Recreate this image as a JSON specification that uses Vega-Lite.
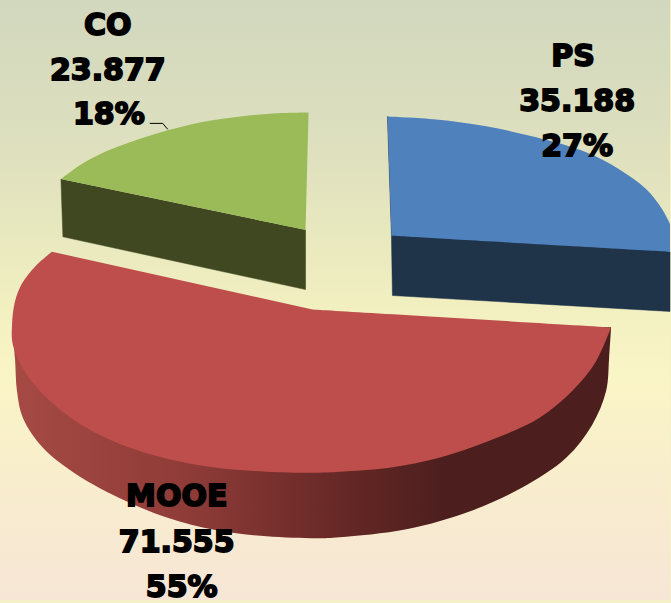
{
"$schema":"https://vega.github.io/schema/vega-lite/v6.json",
"autosize":{"type":"fit","contains":"padding"},
"width":671,"height":603,"padding":0,
"background":"#F5F0C8",
"view":{"stroke":null,"fill":{"gradient":"linear","x1":0,"y1":0,"x2":0,"y2":1,"stops":[{"offset":0,"color":"#D2D8BE"},{"offset":0.25,"color":"#DEE0BE"},{"offset":0.5,"color":"#F1EFC0"},{"offset":0.63,"color":"#FAF5C6"},{"offset":0.85,"color":"#F8EBCF"},{"offset":1,"color":"#F7E6D6"}]}},
"datasets":{
"outline":[
{"s":"CO side","i":1,"x":61,"y":180},{"s":"CO side","i":2,"x":63,"y":238},{"s":"CO side","i":3,"x":306,"y":291},{"s":"CO side","i":4,"x":306,"y":231},
{"s":"CO top","i":1,"x":309,"y":113},{"s":"CO top","i":2,"x":309,"y":113},{"s":"CO top","i":3,"x":273,"y":114},{"s":"CO top","i":4,"x":233,"y":118},{"s":"CO top","i":5,"x":200,"y":123},{"s":"CO top","i":6,"x":168,"y":131},{"s":"CO top","i":7,"x":133,"y":142},{"s":"CO top","i":8,"x":100,"y":155},{"s":"CO top","i":9,"x":80,"y":166},{"s":"CO top","i":10,"x":61,"y":180},{"s":"CO top","i":11,"x":61,"y":180},{"s":"CO top","i":12,"x":306,"y":231},{"s":"CO top","i":13,"x":306,"y":231},
{"s":"PS side","i":1,"x":388,"y":117},{"s":"PS side","i":2,"x":392,"y":237},{"s":"PS side","i":3,"x":393,"y":297},{"s":"PS side","i":4,"x":671,"y":313},{"s":"PS side","i":5,"x":671,"y":253},
{"s":"PS top","i":1,"x":388,"y":117},{"s":"PS top","i":2,"x":388,"y":117},{"s":"PS top","i":3,"x":437,"y":120},{"s":"PS top","i":4,"x":487,"y":127},{"s":"PS top","i":5,"x":537,"y":138},{"s":"PS top","i":6,"x":587,"y":153},{"s":"PS top","i":7,"x":620,"y":170},{"s":"PS top","i":8,"x":647,"y":190},{"s":"PS top","i":9,"x":663,"y":210},{"s":"PS top","i":10,"x":671,"y":225},{"s":"PS top","i":11,"x":671,"y":225},{"s":"PS top","i":12,"x":671,"y":253},{"s":"PS top","i":13,"x":671,"y":253},{"s":"PS top","i":14,"x":392,"y":237},{"s":"PS top","i":15,"x":392,"y":237},
{"s":"MOOE side","i":1,"x":12,"y":327},{"s":"MOOE side","i":2,"x":12,"y":327},{"s":"MOOE side","i":3,"x":15,"y":360},{"s":"MOOE side","i":4,"x":17,"y":393},{"s":"MOOE side","i":5,"x":23,"y":420},{"s":"MOOE side","i":6,"x":43,"y":450},{"s":"MOOE side","i":7,"x":77,"y":477},{"s":"MOOE side","i":8,"x":125,"y":503},{"s":"MOOE side","i":9,"x":167,"y":520},{"s":"MOOE side","i":10,"x":217,"y":533},{"s":"MOOE side","i":11,"x":267,"y":539},{"s":"MOOE side","i":12,"x":317,"y":541},{"s":"MOOE side","i":13,"x":340,"y":540},{"s":"MOOE side","i":14,"x":407,"y":532},{"s":"MOOE side","i":15,"x":473,"y":513},{"s":"MOOE side","i":16,"x":523,"y":490},{"s":"MOOE side","i":17,"x":567,"y":460},{"s":"MOOE side","i":18,"x":593,"y":427},{"s":"MOOE side","i":19,"x":607,"y":393},{"s":"MOOE side","i":20,"x":610,"y":360},{"s":"MOOE side","i":21,"x":612,"y":329},{"s":"MOOE side","i":22,"x":612,"y":329},
{"s":"MOOE top","i":1,"x":52,"y":253},{"s":"MOOE top","i":2,"x":52,"y":253},{"s":"MOOE top","i":3,"x":35,"y":268},{"s":"MOOE top","i":4,"x":22,"y":285},{"s":"MOOE top","i":5,"x":15,"y":303},{"s":"MOOE top","i":6,"x":12,"y":327},{"s":"MOOE top","i":7,"x":13,"y":347},{"s":"MOOE top","i":8,"x":27,"y":377},{"s":"MOOE top","i":9,"x":50,"y":403},{"s":"MOOE top","i":10,"x":83,"y":428},{"s":"MOOE top","i":11,"x":117,"y":445},{"s":"MOOE top","i":12,"x":167,"y":461},{"s":"MOOE top","i":13,"x":217,"y":470},{"s":"MOOE top","i":14,"x":267,"y":474},{"s":"MOOE top","i":15,"x":317,"y":475},{"s":"MOOE top","i":16,"x":340,"y":474},{"s":"MOOE top","i":17,"x":390,"y":470},{"s":"MOOE top","i":18,"x":440,"y":460},{"s":"MOOE top","i":19,"x":490,"y":443},{"s":"MOOE top","i":20,"x":540,"y":420},{"s":"MOOE top","i":21,"x":573,"y":393},{"s":"MOOE top","i":22,"x":597,"y":363},{"s":"MOOE top","i":23,"x":612,"y":329},{"s":"MOOE top","i":24,"x":612,"y":329},{"s":"MOOE top","i":25,"x":313,"y":311},{"s":"MOOE top","i":26,"x":313,"y":311},
{"s":"leader","i":1,"x":150,"y":124},{"s":"leader","i":2,"x":163,"y":124},{"s":"leader","i":3,"x":168,"y":130}
],
"labels":[
{"t":"CO","x":108,"y":35},{"t":"23.877","x":108,"y":80},{"t":"18%","x":109,"y":125},
{"t":"PS","x":574,"y":66},{"t":"35.188","x":578,"y":112},{"t":"27%","x":578,"y":157},
{"t":"MOOE","x":177,"y":509},{"t":"71.555","x":177,"y":555},{"t":"55%","x":182,"y":600}
]},
"encoding":{
"x":{"field":"x","type":"quantitative","axis":null,"scale":{"domain":[0,671],"nice":false,"zero":false}},
"y":{"field":"y","type":"quantitative","axis":null,"scale":{"domain":[603,0],"nice":false,"zero":false}}
},
"layer":[
{"data":{"name":"outline"},"transform":[{"filter":"datum.s==='CO side'"}],"mark":{"type":"line","fill":"#3F4820","stroke":"#3F4820","strokeWidth":0.5},"encoding":{"order":{"field":"i","type":"quantitative"}}},
{"data":{"name":"outline"},"transform":[{"filter":"datum.s==='CO top'"}],"mark":{"type":"line","interpolate":"catmull-rom","fill":"#9BBB59","strokeWidth":0},"encoding":{"order":{"field":"i","type":"quantitative"}}},
{"data":{"name":"outline"},"transform":[{"filter":"datum.s==='PS side'"}],"mark":{"type":"line","fill":"#1F3349","stroke":"#1F3349","strokeWidth":0.5},"encoding":{"order":{"field":"i","type":"quantitative"}}},
{"data":{"name":"outline"},"transform":[{"filter":"datum.s==='PS top'"}],"mark":{"type":"line","interpolate":"catmull-rom","fill":"#4F81BD","strokeWidth":0},"encoding":{"order":{"field":"i","type":"quantitative"}}},
{"data":{"name":"outline"},"transform":[{"filter":"datum.s==='MOOE side'"}],"mark":{"type":"line","interpolate":"catmull-rom","strokeWidth":0,"fill":{"gradient":"linear","x1":0,"y1":0,"x2":1,"y2":0,"stops":[{"offset":0,"color":"#A64A44"},{"offset":0.3,"color":"#8E3B37"},{"offset":0.55,"color":"#662826"},{"offset":0.72,"color":"#4C1F1E"},{"offset":1,"color":"#4C1F1E"}]}},"encoding":{"order":{"field":"i","type":"quantitative"}}},
{"data":{"name":"outline"},"transform":[{"filter":"datum.s==='MOOE top'"}],"mark":{"type":"line","interpolate":"catmull-rom","fill":"#BD4E4B","strokeWidth":0},"encoding":{"order":{"field":"i","type":"quantitative"}}},
{"data":{"name":"outline"},"transform":[{"filter":"datum.s==='leader'"}],"mark":{"type":"line","stroke":"#000000","strokeWidth":1},"encoding":{"order":{"field":"i","type":"quantitative"}}},
{"data":{"name":"labels"},"mark":{"type":"text","font":"DejaVu Sans","fontWeight":"bold","fontSize":30,"align":"center","baseline":"alphabetic","fill":"#000000","stroke":"#000000","strokeWidth":1.8},"encoding":{"text":{"field":"t","type":"nominal"}}}
]
}
